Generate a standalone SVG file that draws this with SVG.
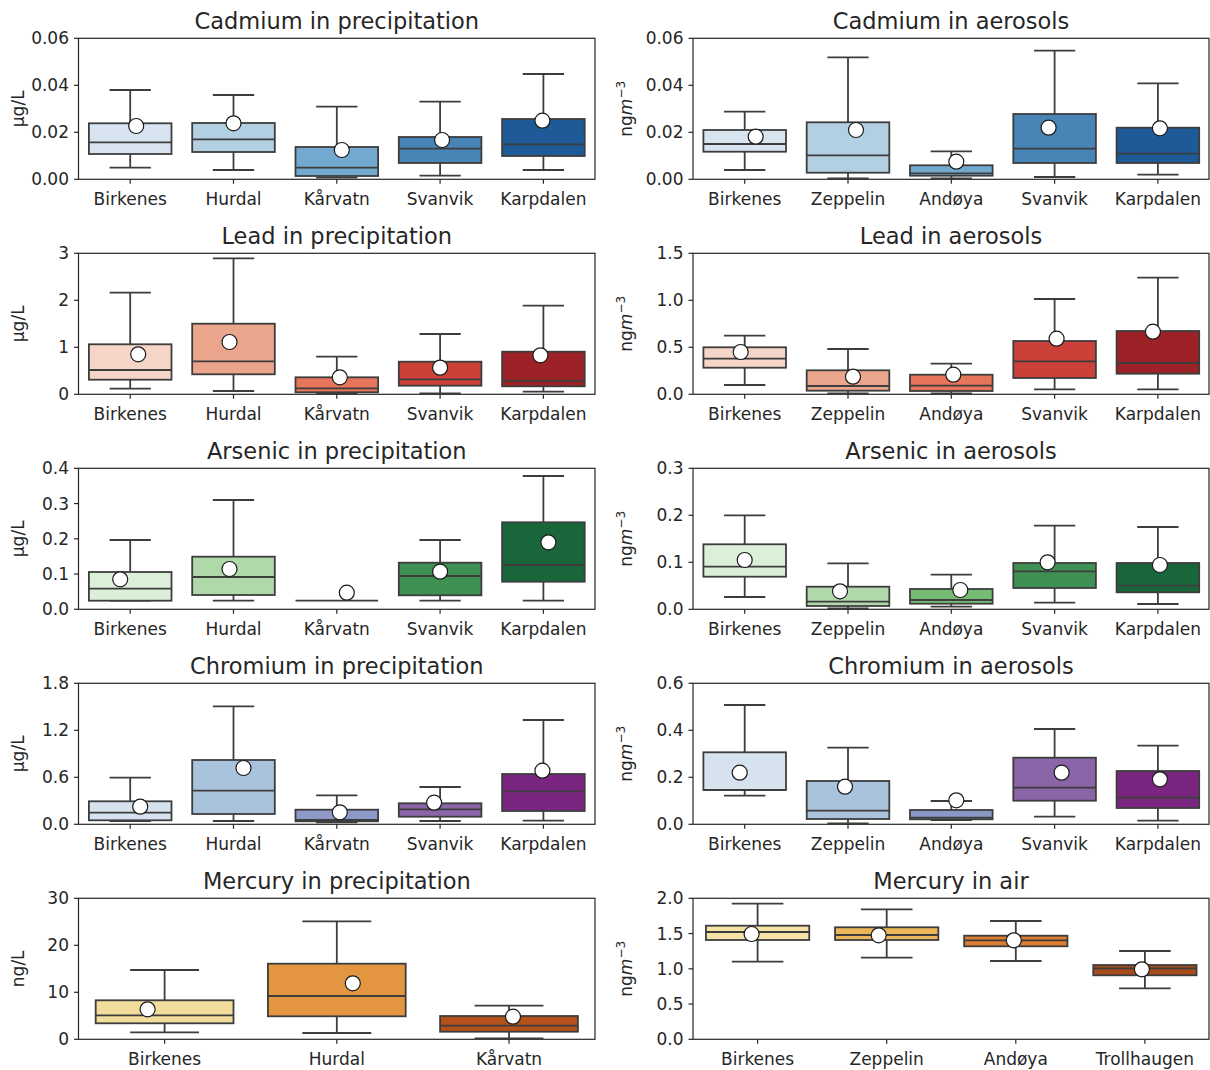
<svg xmlns="http://www.w3.org/2000/svg" width="1210" height="1070" viewBox="0 0 1210 1070">
<style>
text{font-family:"DejaVu Sans","Liberation Sans",sans-serif;fill:#262626}
.tl{font-size:17px}
.ty{font-size:17px;text-anchor:end}
.tx{font-size:17px;text-anchor:middle}
.tt{font-size:22.5px;text-anchor:middle}
.yl{font-size:17px;text-anchor:middle}
.fr{fill:none;stroke:#262626;stroke-width:1.2}
.tk{stroke:#262626;stroke-width:1.2}
.w{stroke:#3d3d3d;stroke-width:1.8;fill:none}
.b{stroke:#3d3d3d;stroke-width:1.8}
.m{fill:#fff;stroke:#1a1a1a;stroke-width:1.2}
</style>
<rect width="1210" height="1070" fill="#fff"/>

<!-- ===== Row 1 left: Cadmium in precipitation ===== -->
<g id="cd-precip">
<text class="tt" x="336.8" y="29">Cadmium in precipitation</text>
<rect class="fr" x="78.5" y="38.3" width="516.5" height="141"/>
<g class="tk"><line x1="74" y1="179.3" x2="78.5" y2="179.3"/><line x1="74" y1="132.3" x2="78.5" y2="132.3"/><line x1="74" y1="85.3" x2="78.5" y2="85.3"/><line x1="74" y1="38.3" x2="78.5" y2="38.3"/>
<line x1="130.2" y1="179.3" x2="130.2" y2="183.8"/><line x1="233.5" y1="179.3" x2="233.5" y2="183.8"/><line x1="336.8" y1="179.3" x2="336.8" y2="183.8"/><line x1="440.1" y1="179.3" x2="440.1" y2="183.8"/><line x1="543.4" y1="179.3" x2="543.4" y2="183.8"/></g>
<text class="ty" x="69" y="185.3">0.00</text><text class="ty" x="69" y="138.3">0.02</text><text class="ty" x="69" y="91.3">0.04</text><text class="ty" x="69" y="44.3">0.06</text>
<text class="tx" x="130.2" y="205">Birkenes</text><text class="tx" x="233.5" y="205">Hurdal</text><text class="tx" x="336.8" y="205">Kårvatn</text><text class="tx" x="440.1" y="205">Svanvik</text><text class="tx" x="543.4" y="205">Karpdalen</text>
<text class="yl" transform="translate(23.5,108.8) rotate(-90)">μg/L</text>
<g id="cdp-1"><line class="w" x1="130.2" y1="90" x2="130.2" y2="167.7"/><line class="w" x1="109.55" y1="90" x2="150.85" y2="90"/><line class="w" x1="109.55" y1="167.7" x2="150.85" y2="167.7"/><rect class="b" x="88.9" y="123.3" width="82.6" height="30.7" fill="#d8e5f1"/><line class="w" x1="88.9" y1="142.3" x2="171.5" y2="142.3"/><circle class="m" cx="136.2" cy="126" r="7.5"/></g>
<g id="cdp-2"><line class="w" x1="233.5" y1="95" x2="233.5" y2="170"/><line class="w" x1="212.85" y1="95" x2="254.15" y2="95"/><line class="w" x1="212.85" y1="170" x2="254.15" y2="170"/><rect class="b" x="192.2" y="123" width="82.6" height="29" fill="#b3cfe2"/><line class="w" x1="192.2" y1="139.3" x2="274.8" y2="139.3"/><circle class="m" cx="233.5" cy="123.3" r="7.5"/></g>
<g id="cdp-3"><line class="w" x1="336.8" y1="106.7" x2="336.8" y2="177.7"/><line class="w" x1="316.15" y1="106.7" x2="357.45" y2="106.7"/><line class="w" x1="316.15" y1="177.7" x2="357.45" y2="177.7"/><rect class="b" x="295.5" y="147" width="82.6" height="29" fill="#74a9cf"/><line class="w" x1="295.5" y1="167.7" x2="378.1" y2="167.7"/><circle class="m" cx="341.8" cy="150" r="7.5"/></g>
<g id="cdp-4"><line class="w" x1="440.1" y1="101.7" x2="440.1" y2="175.7"/><line class="w" x1="419.45" y1="101.7" x2="460.75" y2="101.7"/><line class="w" x1="419.45" y1="175.7" x2="460.75" y2="175.7"/><rect class="b" x="398.8" y="137" width="82.6" height="26" fill="#4884b6"/><line class="w" x1="398.8" y1="148.7" x2="481.4" y2="148.7"/><circle class="m" cx="442.1" cy="140" r="7.5"/></g>
<g id="cdp-5"><line class="w" x1="543.4" y1="74" x2="543.4" y2="170"/><line class="w" x1="522.75" y1="74" x2="564.05" y2="74"/><line class="w" x1="522.75" y1="170" x2="564.05" y2="170"/><rect class="b" x="502.1" y="119" width="82.6" height="37" fill="#1f5a98"/><line class="w" x1="502.1" y1="144.3" x2="584.7" y2="144.3"/><circle class="m" cx="542.4" cy="120.7" r="7.5"/></g>
</g>

<!-- ===== Row 1 right: Cadmium in aerosols ===== -->
<g id="cd-aer">
<text class="tt" x="951" y="29">Cadmium in aerosols</text>
<rect class="fr" x="693" y="38.3" width="516" height="141"/>
<g class="tk"><line x1="688.5" y1="179.3" x2="693" y2="179.3"/><line x1="688.5" y1="132.3" x2="693" y2="132.3"/><line x1="688.5" y1="85.3" x2="693" y2="85.3"/><line x1="688.5" y1="38.3" x2="693" y2="38.3"/>
<line x1="744.7" y1="179.3" x2="744.7" y2="183.8"/><line x1="848" y1="179.3" x2="848" y2="183.8"/><line x1="951.3" y1="179.3" x2="951.3" y2="183.8"/><line x1="1054.6" y1="179.3" x2="1054.6" y2="183.8"/><line x1="1157.9" y1="179.3" x2="1157.9" y2="183.8"/></g>
<text class="ty" x="683.5" y="185.3">0.00</text><text class="ty" x="683.5" y="138.3">0.02</text><text class="ty" x="683.5" y="91.3">0.04</text><text class="ty" x="683.5" y="44.3">0.06</text>
<text class="tx" x="744.7" y="205">Birkenes</text><text class="tx" x="848" y="205">Zeppelin</text><text class="tx" x="951.3" y="205">Andøya</text><text class="tx" x="1054.6" y="205">Svanvik</text><text class="tx" x="1157.9" y="205">Karpdalen</text>
<text class="yl" transform="translate(632,108.8) rotate(-90)">ng<tspan font-style="italic">m</tspan><tspan font-size="12" dy="-7">−3</tspan></text>
<g id="cda-1"><line class="w" x1="744.7" y1="111.7" x2="744.7" y2="170"/><line class="w" x1="724.05" y1="111.7" x2="765.35" y2="111.7"/><line class="w" x1="724.05" y1="170" x2="765.35" y2="170"/><rect class="b" x="703.4" y="130" width="82.6" height="21.7" fill="#d8e5f1"/><line class="w" x1="703.4" y1="144" x2="786" y2="144"/><circle class="m" cx="755.7" cy="136.7" r="7.5"/></g>
<g id="cda-2"><line class="w" x1="848" y1="57.3" x2="848" y2="178.3"/><line class="w" x1="827.35" y1="57.3" x2="868.65" y2="57.3"/><line class="w" x1="827.35" y1="178.3" x2="868.65" y2="178.3"/><rect class="b" x="806.7" y="122.3" width="82.6" height="50.4" fill="#b3cfe2"/><line class="w" x1="806.7" y1="155.3" x2="889.3" y2="155.3"/><circle class="m" cx="856" cy="130" r="7.5"/></g>
<g id="cda-3"><line class="w" x1="951.3" y1="151.3" x2="951.3" y2="178.3"/><line class="w" x1="930.65" y1="151.3" x2="971.95" y2="151.3"/><line class="w" x1="930.65" y1="178.3" x2="971.95" y2="178.3"/><rect class="b" x="910" y="165.3" width="82.6" height="10.4" fill="#74a9cf"/><line class="w" x1="910" y1="173.3" x2="992.6" y2="173.3"/><circle class="m" cx="956.3" cy="161.7" r="7.5"/></g>
<g id="cda-4"><line class="w" x1="1054.6" y1="50.7" x2="1054.6" y2="177"/><line class="w" x1="1033.95" y1="50.7" x2="1075.25" y2="50.7"/><line class="w" x1="1033.95" y1="177" x2="1075.25" y2="177"/><rect class="b" x="1013.3" y="114" width="82.6" height="49" fill="#4884b6"/><line class="w" x1="1013.3" y1="148.7" x2="1095.9" y2="148.7"/><circle class="m" cx="1048.6" cy="127.7" r="7.5"/></g>
<g id="cda-5"><line class="w" x1="1157.9" y1="83.3" x2="1157.9" y2="174.7"/><line class="w" x1="1137.25" y1="83.3" x2="1178.55" y2="83.3"/><line class="w" x1="1137.25" y1="174.7" x2="1178.55" y2="174.7"/><rect class="b" x="1116.6" y="127.7" width="82.6" height="35.3" fill="#1f5a98"/><line class="w" x1="1116.6" y1="153.7" x2="1199.2" y2="153.7"/><circle class="m" cx="1159.9" cy="128.3" r="7.5"/></g>
</g>

<!-- ===== Row 2 left: Lead in precipitation ===== -->
<g id="pb-precip">
<text class="tt" x="336.8" y="244">Lead in precipitation</text>
<rect class="fr" x="78.5" y="253.3" width="516.5" height="141"/>
<g class="tk"><line x1="74" y1="394.3" x2="78.5" y2="394.3"/><line x1="74" y1="347.3" x2="78.5" y2="347.3"/><line x1="74" y1="300.3" x2="78.5" y2="300.3"/><line x1="74" y1="253.3" x2="78.5" y2="253.3"/>
<line x1="130.2" y1="394.3" x2="130.2" y2="398.8"/><line x1="233.5" y1="394.3" x2="233.5" y2="398.8"/><line x1="336.8" y1="394.3" x2="336.8" y2="398.8"/><line x1="440.1" y1="394.3" x2="440.1" y2="398.8"/><line x1="543.4" y1="394.3" x2="543.4" y2="398.8"/></g>
<text class="ty" x="69" y="400.3">0</text><text class="ty" x="69" y="353.3">1</text><text class="ty" x="69" y="306.3">2</text><text class="ty" x="69" y="259.3">3</text>
<text class="tx" x="130.2" y="420">Birkenes</text><text class="tx" x="233.5" y="420">Hurdal</text><text class="tx" x="336.8" y="420">Kårvatn</text><text class="tx" x="440.1" y="420">Svanvik</text><text class="tx" x="543.4" y="420">Karpdalen</text>
<text class="yl" transform="translate(23.5,323.8) rotate(-90)">μg/L</text>
<g id="pbp-1"><line class="w" x1="130.2" y1="292.7" x2="130.2" y2="388.7"/><line class="w" x1="109.55" y1="292.7" x2="150.85" y2="292.7"/><line class="w" x1="109.55" y1="388.7" x2="150.85" y2="388.7"/><rect class="b" x="88.9" y="344.3" width="82.6" height="35.4" fill="#f5d5c8"/><line class="w" x1="88.9" y1="370" x2="171.5" y2="370"/><circle class="m" cx="138.2" cy="354.3" r="7.5"/></g>
<g id="pbp-2"><line class="w" x1="233.5" y1="258.3" x2="233.5" y2="391"/><line class="w" x1="212.85" y1="258.3" x2="254.15" y2="258.3"/><line class="w" x1="212.85" y1="391" x2="254.15" y2="391"/><rect class="b" x="192.2" y="323.7" width="82.6" height="50.6" fill="#eaa58c"/><line class="w" x1="192.2" y1="361.3" x2="274.8" y2="361.3"/><circle class="m" cx="229.5" cy="342" r="7.5"/></g>
<g id="pbp-3"><line class="w" x1="336.8" y1="356.7" x2="336.8" y2="393.7"/><line class="w" x1="316.15" y1="356.7" x2="357.45" y2="356.7"/><line class="w" x1="316.15" y1="393.7" x2="357.45" y2="393.7"/><rect class="b" x="295.5" y="377.3" width="82.6" height="15" fill="#e6755b"/><line class="w" x1="295.5" y1="388.3" x2="378.1" y2="388.3"/><circle class="m" cx="339.8" cy="377.3" r="7.5"/></g>
<g id="pbp-4"><line class="w" x1="440.1" y1="334" x2="440.1" y2="393.3"/><line class="w" x1="419.45" y1="334" x2="460.75" y2="334"/><line class="w" x1="419.45" y1="393.3" x2="460.75" y2="393.3"/><rect class="b" x="398.8" y="361.7" width="82.6" height="24" fill="#cb4139"/><line class="w" x1="398.8" y1="379.3" x2="481.4" y2="379.3"/><circle class="m" cx="440.1" cy="367.7" r="7.5"/></g>
<g id="pbp-5"><line class="w" x1="543.4" y1="305.7" x2="543.4" y2="391.7"/><line class="w" x1="522.75" y1="305.7" x2="564.05" y2="305.7"/><line class="w" x1="522.75" y1="391.7" x2="564.05" y2="391.7"/><rect class="b" x="502.1" y="351.7" width="82.6" height="34.6" fill="#9c2227"/><line class="w" x1="502.1" y1="380.7" x2="584.7" y2="380.7"/><circle class="m" cx="540.4" cy="355.3" r="7.5"/></g>
</g>

<!-- ===== Row 2 right: Lead in aerosols ===== -->
<g id="pb-aer">
<text class="tt" x="951" y="244">Lead in aerosols</text>
<rect class="fr" x="693" y="253.3" width="516" height="141"/>
<g class="tk"><line x1="688.5" y1="394.3" x2="693" y2="394.3"/><line x1="688.5" y1="347.3" x2="693" y2="347.3"/><line x1="688.5" y1="300.3" x2="693" y2="300.3"/><line x1="688.5" y1="253.3" x2="693" y2="253.3"/>
<line x1="744.7" y1="394.3" x2="744.7" y2="398.8"/><line x1="848" y1="394.3" x2="848" y2="398.8"/><line x1="951.3" y1="394.3" x2="951.3" y2="398.8"/><line x1="1054.6" y1="394.3" x2="1054.6" y2="398.8"/><line x1="1157.9" y1="394.3" x2="1157.9" y2="398.8"/></g>
<text class="ty" x="683.5" y="400.3">0.0</text><text class="ty" x="683.5" y="353.3">0.5</text><text class="ty" x="683.5" y="306.3">1.0</text><text class="ty" x="683.5" y="259.3">1.5</text>
<text class="tx" x="744.7" y="420">Birkenes</text><text class="tx" x="848" y="420">Zeppelin</text><text class="tx" x="951.3" y="420">Andøya</text><text class="tx" x="1054.6" y="420">Svanvik</text><text class="tx" x="1157.9" y="420">Karpdalen</text>
<text class="yl" transform="translate(632,323.8) rotate(-90)">ng<tspan font-style="italic">m</tspan><tspan font-size="12" dy="-7">−3</tspan></text>
<g id="pba-1"><line class="w" x1="744.7" y1="335.7" x2="744.7" y2="385"/><line class="w" x1="724.05" y1="335.7" x2="765.35" y2="335.7"/><line class="w" x1="724.05" y1="385" x2="765.35" y2="385"/><rect class="b" x="703.4" y="347.3" width="82.6" height="20.4" fill="#f5d5c8"/><line class="w" x1="703.4" y1="358.7" x2="786" y2="358.7"/><circle class="m" cx="740.7" cy="352" r="7.5"/></g>
<g id="pba-2"><line class="w" x1="848" y1="349" x2="848" y2="393.3"/><line class="w" x1="827.35" y1="349" x2="868.65" y2="349"/><line class="w" x1="827.35" y1="393.3" x2="868.65" y2="393.3"/><rect class="b" x="806.7" y="370.3" width="82.6" height="20.4" fill="#eaa58c"/><line class="w" x1="806.7" y1="386" x2="889.3" y2="386"/><circle class="m" cx="853" cy="376.7" r="7.5"/></g>
<g id="pba-3"><line class="w" x1="951.3" y1="363.7" x2="951.3" y2="393.3"/><line class="w" x1="930.65" y1="363.7" x2="971.95" y2="363.7"/><line class="w" x1="930.65" y1="393.3" x2="971.95" y2="393.3"/><rect class="b" x="910" y="374.7" width="82.6" height="16.3" fill="#e6755b"/><line class="w" x1="910" y1="385.7" x2="992.6" y2="385.7"/><circle class="m" cx="953.3" cy="374.7" r="7.5"/></g>
<g id="pba-4"><line class="w" x1="1054.6" y1="299" x2="1054.6" y2="389.3"/><line class="w" x1="1033.95" y1="299" x2="1075.25" y2="299"/><line class="w" x1="1033.95" y1="389.3" x2="1075.25" y2="389.3"/><rect class="b" x="1013.3" y="341" width="82.6" height="37" fill="#cb4139"/><line class="w" x1="1013.3" y1="361.3" x2="1095.9" y2="361.3"/><circle class="m" cx="1056.6" cy="338.7" r="7.5"/></g>
<g id="pba-5"><line class="w" x1="1157.9" y1="277.7" x2="1157.9" y2="389.3"/><line class="w" x1="1137.25" y1="277.7" x2="1178.55" y2="277.7"/><line class="w" x1="1137.25" y1="389.3" x2="1178.55" y2="389.3"/><rect class="b" x="1116.6" y="331" width="82.6" height="42.7" fill="#9c2227"/><line class="w" x1="1116.6" y1="363" x2="1199.2" y2="363"/><circle class="m" cx="1152.9" cy="331.7" r="7.5"/></g>
</g>

<!-- ===== Row 3 left: Arsenic in precipitation ===== -->
<g id="as-precip">
<text class="tt" x="336.8" y="459">Arsenic in precipitation</text>
<rect class="fr" x="78.5" y="468.3" width="516.5" height="141"/>
<g class="tk"><line x1="74" y1="609.3" x2="78.5" y2="609.3"/><line x1="74" y1="574.05" x2="78.5" y2="574.05"/><line x1="74" y1="538.8" x2="78.5" y2="538.8"/><line x1="74" y1="503.55" x2="78.5" y2="503.55"/><line x1="74" y1="468.3" x2="78.5" y2="468.3"/>
<line x1="130.2" y1="609.3" x2="130.2" y2="613.8"/><line x1="233.5" y1="609.3" x2="233.5" y2="613.8"/><line x1="336.8" y1="609.3" x2="336.8" y2="613.8"/><line x1="440.1" y1="609.3" x2="440.1" y2="613.8"/><line x1="543.4" y1="609.3" x2="543.4" y2="613.8"/></g>
<text class="ty" x="69" y="615.3">0.0</text><text class="ty" x="69" y="580.05">0.1</text><text class="ty" x="69" y="544.8">0.2</text><text class="ty" x="69" y="509.55">0.3</text><text class="ty" x="69" y="474.3">0.4</text>
<text class="tx" x="130.2" y="635">Birkenes</text><text class="tx" x="233.5" y="635">Hurdal</text><text class="tx" x="336.8" y="635">Kårvatn</text><text class="tx" x="440.1" y="635">Svanvik</text><text class="tx" x="543.4" y="635">Karpdalen</text>
<text class="yl" transform="translate(23.5,538.8) rotate(-90)">μg/L</text>
<g id="asp-1"><line class="w" x1="130.2" y1="540" x2="130.2" y2="600.7"/><line class="w" x1="109.55" y1="540" x2="150.85" y2="540"/><line class="w" x1="109.55" y1="600.7" x2="150.85" y2="600.7"/><rect class="b" x="88.9" y="572" width="82.6" height="28.7" fill="#dcefd9"/><line class="w" x1="88.9" y1="588.7" x2="171.5" y2="588.7"/><circle class="m" cx="120.2" cy="579.3" r="7.5"/></g>
<g id="asp-2"><line class="w" x1="233.5" y1="500" x2="233.5" y2="600.7"/><line class="w" x1="212.85" y1="500" x2="254.15" y2="500"/><line class="w" x1="212.85" y1="600.7" x2="254.15" y2="600.7"/><rect class="b" x="192.2" y="556.7" width="82.6" height="38.3" fill="#afd9a8"/><line class="w" x1="192.2" y1="577" x2="274.8" y2="577"/><circle class="m" cx="229.5" cy="569" r="7.5"/></g>
<g id="asp-3"><line class="w" x1="295.5" y1="600.7" x2="378.1" y2="600.7"/><circle class="m" cx="346.8" cy="592.7" r="7.5"/></g>
<g id="asp-4"><line class="w" x1="440.1" y1="540" x2="440.1" y2="600.7"/><line class="w" x1="419.45" y1="540" x2="460.75" y2="540"/><line class="w" x1="419.45" y1="600.7" x2="460.75" y2="600.7"/><rect class="b" x="398.8" y="562.7" width="82.6" height="32.6" fill="#3f9053"/><line class="w" x1="398.8" y1="576" x2="481.4" y2="576"/><circle class="m" cx="440.1" cy="571.7" r="7.5"/></g>
<g id="asp-5"><line class="w" x1="543.4" y1="476" x2="543.4" y2="600.7"/><line class="w" x1="522.75" y1="476" x2="564.05" y2="476"/><line class="w" x1="522.75" y1="600.7" x2="564.05" y2="600.7"/><rect class="b" x="502.1" y="522.3" width="82.6" height="59.4" fill="#18663a"/><line class="w" x1="502.1" y1="565" x2="584.7" y2="565"/><circle class="m" cx="548.4" cy="542.3" r="7.5"/></g>
</g>

<!-- ===== Row 3 right: Arsenic in aerosols ===== -->
<g id="as-aer">
<text class="tt" x="951" y="459">Arsenic in aerosols</text>
<rect class="fr" x="693" y="468.3" width="516" height="141"/>
<g class="tk"><line x1="688.5" y1="609.3" x2="693" y2="609.3"/><line x1="688.5" y1="562.3" x2="693" y2="562.3"/><line x1="688.5" y1="515.3" x2="693" y2="515.3"/><line x1="688.5" y1="468.3" x2="693" y2="468.3"/>
<line x1="744.7" y1="609.3" x2="744.7" y2="613.8"/><line x1="848" y1="609.3" x2="848" y2="613.8"/><line x1="951.3" y1="609.3" x2="951.3" y2="613.8"/><line x1="1054.6" y1="609.3" x2="1054.6" y2="613.8"/><line x1="1157.9" y1="609.3" x2="1157.9" y2="613.8"/></g>
<text class="ty" x="683.5" y="615.3">0.0</text><text class="ty" x="683.5" y="568.3">0.1</text><text class="ty" x="683.5" y="521.3">0.2</text><text class="ty" x="683.5" y="474.3">0.3</text>
<text class="tx" x="744.7" y="635">Birkenes</text><text class="tx" x="848" y="635">Zeppelin</text><text class="tx" x="951.3" y="635">Andøya</text><text class="tx" x="1054.6" y="635">Svanvik</text><text class="tx" x="1157.9" y="635">Karpdalen</text>
<text class="yl" transform="translate(632,538.8) rotate(-90)">ng<tspan font-style="italic">m</tspan><tspan font-size="12" dy="-7">−3</tspan></text>
<g id="asa-1"><line class="w" x1="744.7" y1="515.3" x2="744.7" y2="597"/><line class="w" x1="724.05" y1="515.3" x2="765.35" y2="515.3"/><line class="w" x1="724.05" y1="597" x2="765.35" y2="597"/><rect class="b" x="703.4" y="544.3" width="82.6" height="32.4" fill="#dcefd9"/><line class="w" x1="703.4" y1="566.7" x2="786" y2="566.7"/><circle class="m" cx="744.7" cy="560" r="7.5"/></g>
<g id="asa-2"><line class="w" x1="848" y1="563.3" x2="848" y2="608.3"/><line class="w" x1="827.35" y1="563.3" x2="868.65" y2="563.3"/><line class="w" x1="827.35" y1="608.3" x2="868.65" y2="608.3"/><rect class="b" x="806.7" y="586.7" width="82.6" height="19.3" fill="#afd9a8"/><line class="w" x1="806.7" y1="601.7" x2="889.3" y2="601.7"/><circle class="m" cx="840" cy="591.3" r="7.5"/></g>
<g id="asa-3"><line class="w" x1="951.3" y1="574.7" x2="951.3" y2="606.7"/><line class="w" x1="930.65" y1="574.7" x2="971.95" y2="574.7"/><line class="w" x1="930.65" y1="606.7" x2="971.95" y2="606.7"/><rect class="b" x="910" y="589" width="82.6" height="14.7" fill="#77bc75"/><line class="w" x1="910" y1="600" x2="992.6" y2="600"/><circle class="m" cx="960.3" cy="590" r="7.5"/></g>
<g id="asa-4"><line class="w" x1="1054.6" y1="525.7" x2="1054.6" y2="602.7"/><line class="w" x1="1033.95" y1="525.7" x2="1075.25" y2="525.7"/><line class="w" x1="1033.95" y1="602.7" x2="1075.25" y2="602.7"/><rect class="b" x="1013.3" y="563" width="82.6" height="25" fill="#3f9053"/><line class="w" x1="1013.3" y1="571.3" x2="1095.9" y2="571.3"/><circle class="m" cx="1047.6" cy="562.3" r="7.5"/></g>
<g id="asa-5"><line class="w" x1="1157.9" y1="527" x2="1157.9" y2="604"/><line class="w" x1="1137.25" y1="527" x2="1178.55" y2="527"/><line class="w" x1="1137.25" y1="604" x2="1178.55" y2="604"/><rect class="b" x="1116.6" y="563" width="82.6" height="29.3" fill="#18663a"/><line class="w" x1="1116.6" y1="585.7" x2="1199.2" y2="585.7"/><circle class="m" cx="1159.9" cy="565" r="7.5"/></g>
</g>

<!-- ===== Row 4 left: Chromium in precipitation ===== -->
<g id="cr-precip">
<text class="tt" x="336.8" y="674">Chromium in precipitation</text>
<rect class="fr" x="78.5" y="683.3" width="516.5" height="141"/>
<g class="tk"><line x1="74" y1="824.3" x2="78.5" y2="824.3"/><line x1="74" y1="777.3" x2="78.5" y2="777.3"/><line x1="74" y1="730.3" x2="78.5" y2="730.3"/><line x1="74" y1="683.3" x2="78.5" y2="683.3"/>
<line x1="130.2" y1="824.3" x2="130.2" y2="828.8"/><line x1="233.5" y1="824.3" x2="233.5" y2="828.8"/><line x1="336.8" y1="824.3" x2="336.8" y2="828.8"/><line x1="440.1" y1="824.3" x2="440.1" y2="828.8"/><line x1="543.4" y1="824.3" x2="543.4" y2="828.8"/></g>
<text class="ty" x="69" y="830.3">0.0</text><text class="ty" x="69" y="783.3">0.6</text><text class="ty" x="69" y="736.3">1.2</text><text class="ty" x="69" y="689.3">1.8</text>
<text class="tx" x="130.2" y="850">Birkenes</text><text class="tx" x="233.5" y="850">Hurdal</text><text class="tx" x="336.8" y="850">Kårvatn</text><text class="tx" x="440.1" y="850">Svanvik</text><text class="tx" x="543.4" y="850">Karpdalen</text>
<text class="yl" transform="translate(23.5,753.8) rotate(-90)">μg/L</text>
<g id="crp-1"><line class="w" x1="130.2" y1="777.7" x2="130.2" y2="821"/><line class="w" x1="109.55" y1="777.7" x2="150.85" y2="777.7"/><line class="w" x1="109.55" y1="821" x2="150.85" y2="821"/><rect class="b" x="88.9" y="801.3" width="82.6" height="19" fill="#d6e2ed"/><line class="w" x1="88.9" y1="812.7" x2="171.5" y2="812.7"/><circle class="m" cx="140.2" cy="806.7" r="7.5"/></g>
<g id="crp-2"><line class="w" x1="233.5" y1="706.3" x2="233.5" y2="821"/><line class="w" x1="212.85" y1="706.3" x2="254.15" y2="706.3"/><line class="w" x1="212.85" y1="821" x2="254.15" y2="821"/><rect class="b" x="192.2" y="760" width="82.6" height="54" fill="#aac3dc"/><line class="w" x1="192.2" y1="790.7" x2="274.8" y2="790.7"/><circle class="m" cx="243.5" cy="768" r="7.5"/></g>
<g id="crp-3"><line class="w" x1="336.8" y1="795.3" x2="336.8" y2="822.3"/><line class="w" x1="316.15" y1="795.3" x2="357.45" y2="795.3"/><line class="w" x1="316.15" y1="822.3" x2="357.45" y2="822.3"/><rect class="b" x="295.5" y="809.7" width="82.6" height="11.6" fill="#8e98c7"/><line class="w" x1="295.5" y1="820" x2="378.1" y2="820"/><circle class="m" cx="339.8" cy="812.3" r="7.5"/></g>
<g id="crp-4"><line class="w" x1="440.1" y1="787" x2="440.1" y2="821"/><line class="w" x1="419.45" y1="787" x2="460.75" y2="787"/><line class="w" x1="419.45" y1="821" x2="460.75" y2="821"/><rect class="b" x="398.8" y="803.3" width="82.6" height="13.4" fill="#8a65a7"/><line class="w" x1="398.8" y1="809.3" x2="481.4" y2="809.3"/><circle class="m" cx="434.1" cy="802.7" r="7.5"/></g>
<g id="crp-5"><line class="w" x1="543.4" y1="720" x2="543.4" y2="820.7"/><line class="w" x1="522.75" y1="720" x2="564.05" y2="720"/><line class="w" x1="522.75" y1="820.7" x2="564.05" y2="820.7"/><rect class="b" x="502.1" y="774" width="82.6" height="37" fill="#7a2680"/><line class="w" x1="502.1" y1="791.3" x2="584.7" y2="791.3"/><circle class="m" cx="542.4" cy="770.7" r="7.5"/></g>
</g>

<!-- ===== Row 4 right: Chromium in aerosols ===== -->
<g id="cr-aer">
<text class="tt" x="951" y="674">Chromium in aerosols</text>
<rect class="fr" x="693" y="683.3" width="516" height="141"/>
<g class="tk"><line x1="688.5" y1="824.3" x2="693" y2="824.3"/><line x1="688.5" y1="777.3" x2="693" y2="777.3"/><line x1="688.5" y1="730.3" x2="693" y2="730.3"/><line x1="688.5" y1="683.3" x2="693" y2="683.3"/>
<line x1="744.7" y1="824.3" x2="744.7" y2="828.8"/><line x1="848" y1="824.3" x2="848" y2="828.8"/><line x1="951.3" y1="824.3" x2="951.3" y2="828.8"/><line x1="1054.6" y1="824.3" x2="1054.6" y2="828.8"/><line x1="1157.9" y1="824.3" x2="1157.9" y2="828.8"/></g>
<text class="ty" x="683.5" y="830.3">0.0</text><text class="ty" x="683.5" y="783.3">0.2</text><text class="ty" x="683.5" y="736.3">0.4</text><text class="ty" x="683.5" y="689.3">0.6</text>
<text class="tx" x="744.7" y="850">Birkenes</text><text class="tx" x="848" y="850">Zeppelin</text><text class="tx" x="951.3" y="850">Andøya</text><text class="tx" x="1054.6" y="850">Svanvik</text><text class="tx" x="1157.9" y="850">Karpdalen</text>
<text class="yl" transform="translate(632,753.8) rotate(-90)">ng<tspan font-style="italic">m</tspan><tspan font-size="12" dy="-7">−3</tspan></text>
<g id="cra-1"><line class="w" x1="744.7" y1="705" x2="744.7" y2="795.7"/><line class="w" x1="724.05" y1="705" x2="765.35" y2="705"/><line class="w" x1="724.05" y1="795.7" x2="765.35" y2="795.7"/><rect class="b" x="703.4" y="752.3" width="82.6" height="37.7" fill="#d6e2ed"/><line class="w" x1="703.4" y1="790" x2="786" y2="790"/><circle class="m" cx="739.7" cy="772.7" r="7.5"/></g>
<g id="cra-2"><line class="w" x1="848" y1="747.7" x2="848" y2="823.3"/><line class="w" x1="827.35" y1="747.7" x2="868.65" y2="747.7"/><line class="w" x1="827.35" y1="823.3" x2="868.65" y2="823.3"/><rect class="b" x="806.7" y="781" width="82.6" height="38" fill="#aac3dc"/><line class="w" x1="806.7" y1="810.7" x2="889.3" y2="810.7"/><circle class="m" cx="845" cy="786.7" r="7.5"/></g>
<g id="cra-3"><line class="w" x1="951.3" y1="801" x2="951.3" y2="820"/><line class="w" x1="930.65" y1="801" x2="971.95" y2="801"/><line class="w" x1="930.65" y1="820" x2="971.95" y2="820"/><rect class="b" x="910" y="810" width="82.6" height="9.3" fill="#8e98c7"/><line class="w" x1="910" y1="817.7" x2="992.6" y2="817.7"/><circle class="m" cx="956.3" cy="800.3" r="7.5"/></g>
<g id="cra-4"><line class="w" x1="1054.6" y1="729" x2="1054.6" y2="816.7"/><line class="w" x1="1033.95" y1="729" x2="1075.25" y2="729"/><line class="w" x1="1033.95" y1="816.7" x2="1075.25" y2="816.7"/><rect class="b" x="1013.3" y="757.7" width="82.6" height="43" fill="#8a65a7"/><line class="w" x1="1013.3" y1="787.7" x2="1095.9" y2="787.7"/><circle class="m" cx="1061.6" cy="772.7" r="7.5"/></g>
<g id="cra-5"><line class="w" x1="1157.9" y1="745.7" x2="1157.9" y2="820.7"/><line class="w" x1="1137.25" y1="745.7" x2="1178.55" y2="745.7"/><line class="w" x1="1137.25" y1="820.7" x2="1178.55" y2="820.7"/><rect class="b" x="1116.6" y="771" width="82.6" height="37" fill="#7a2680"/><line class="w" x1="1116.6" y1="797.7" x2="1199.2" y2="797.7"/><circle class="m" cx="1159.9" cy="779.3" r="7.5"/></g>
</g>

<!-- ===== Row 5 left: Mercury in precipitation ===== -->
<g id="hg-precip">
<text class="tt" x="336.8" y="889">Mercury in precipitation</text>
<rect class="fr" x="78.5" y="898.3" width="516.5" height="141"/>
<g class="tk"><line x1="74" y1="1039.3" x2="78.5" y2="1039.3"/><line x1="74" y1="992.3" x2="78.5" y2="992.3"/><line x1="74" y1="945.3" x2="78.5" y2="945.3"/><line x1="74" y1="898.3" x2="78.5" y2="898.3"/>
<line x1="164.6" y1="1039.3" x2="164.6" y2="1043.8"/><line x1="336.8" y1="1039.3" x2="336.8" y2="1043.8"/><line x1="509" y1="1039.3" x2="509" y2="1043.8"/></g>
<text class="ty" x="69" y="1045.3">0</text><text class="ty" x="69" y="998.3">10</text><text class="ty" x="69" y="951.3">20</text><text class="ty" x="69" y="904.3">30</text>
<text class="tx" x="164.6" y="1065">Birkenes</text><text class="tx" x="336.8" y="1065">Hurdal</text><text class="tx" x="509" y="1065">Kårvatn</text>
<text class="yl" transform="translate(23.5,968.8) rotate(-90)">ng/L</text>
<g id="hgp-1"><line class="w" x1="164.6" y1="970" x2="164.6" y2="1032.3"/><line class="w" x1="130.15" y1="970" x2="199.05" y2="970"/><line class="w" x1="130.15" y1="1032.3" x2="199.05" y2="1032.3"/><rect class="b" x="95.7" y="1000.3" width="137.8" height="23" fill="#f1dc9c"/><line class="w" x1="95.7" y1="1015.3" x2="233.5" y2="1015.3"/><circle class="m" cx="147.6" cy="1009.3" r="7.5"/></g>
<g id="hgp-2"><line class="w" x1="336.8" y1="921.3" x2="336.8" y2="1033"/><line class="w" x1="302.35" y1="921.3" x2="371.25" y2="921.3"/><line class="w" x1="302.35" y1="1033" x2="371.25" y2="1033"/><rect class="b" x="267.9" y="963.7" width="137.8" height="52.6" fill="#e3963f"/><line class="w" x1="267.9" y1="996" x2="405.7" y2="996"/><circle class="m" cx="352.8" cy="983.3" r="7.5"/></g>
<g id="hgp-3"><line class="w" x1="509" y1="1005.7" x2="509" y2="1038.3"/><line class="w" x1="474.55" y1="1005.7" x2="543.45" y2="1005.7"/><line class="w" x1="474.55" y1="1038.3" x2="543.45" y2="1038.3"/><rect class="b" x="440.1" y="1016" width="137.8" height="15.7" fill="#b4501a"/><line class="w" x1="440.1" y1="1025.7" x2="577.9" y2="1025.7"/><circle class="m" cx="513" cy="1016.7" r="7.5"/></g>
</g>

<!-- ===== Row 5 right: Mercury in air ===== -->
<g id="hg-air">
<text class="tt" x="951" y="889">Mercury in air</text>
<rect class="fr" x="693" y="898.3" width="516" height="141"/>
<g class="tk"><line x1="688.5" y1="1039.3" x2="693" y2="1039.3"/><line x1="688.5" y1="1004.05" x2="693" y2="1004.05"/><line x1="688.5" y1="968.8" x2="693" y2="968.8"/><line x1="688.5" y1="933.55" x2="693" y2="933.55"/><line x1="688.5" y1="898.3" x2="693" y2="898.3"/>
<line x1="757.6" y1="1039.3" x2="757.6" y2="1043.8"/><line x1="886.7" y1="1039.3" x2="886.7" y2="1043.8"/><line x1="1015.8" y1="1039.3" x2="1015.8" y2="1043.8"/><line x1="1144.9" y1="1039.3" x2="1144.9" y2="1043.8"/></g>
<text class="ty" x="683.5" y="1045.3">0.0</text><text class="ty" x="683.5" y="1010.05">0.5</text><text class="ty" x="683.5" y="974.8">1.0</text><text class="ty" x="683.5" y="939.55">1.5</text><text class="ty" x="683.5" y="904.3">2.0</text>
<text class="tx" x="757.6" y="1065">Birkenes</text><text class="tx" x="886.7" y="1065">Zeppelin</text><text class="tx" x="1015.8" y="1065">Andøya</text><text class="tx" x="1144.9" y="1065">Trollhaugen</text>
<text class="yl" transform="translate(632,968.8) rotate(-90)">ng<tspan font-style="italic">m</tspan><tspan font-size="12" dy="-7">−3</tspan></text>
<g id="hga-1"><line class="w" x1="757.6" y1="903.7" x2="757.6" y2="961.7"/><line class="w" x1="731.8" y1="903.7" x2="783.4" y2="903.7"/><line class="w" x1="731.8" y1="961.7" x2="783.4" y2="961.7"/><rect class="b" x="705.95" y="925.7" width="103.3" height="14.3" fill="#f5e2a6"/><line class="w" x1="705.95" y1="932" x2="809.25" y2="932"/><circle class="m" cx="751.6" cy="934" r="7.5"/></g>
<g id="hga-2"><line class="w" x1="886.7" y1="909.3" x2="886.7" y2="957.7"/><line class="w" x1="860.9" y1="909.3" x2="912.5" y2="909.3"/><line class="w" x1="860.9" y1="957.7" x2="912.5" y2="957.7"/><rect class="b" x="835.05" y="927.3" width="103.3" height="12.7" fill="#ecb75a"/><line class="w" x1="835.05" y1="935" x2="938.35" y2="935"/><circle class="m" cx="878.7" cy="935.3" r="7.5"/></g>
<g id="hga-3"><line class="w" x1="1015.8" y1="921" x2="1015.8" y2="961"/><line class="w" x1="990" y1="921" x2="1041.6" y2="921"/><line class="w" x1="990" y1="961" x2="1041.6" y2="961"/><rect class="b" x="964.15" y="935.7" width="103.3" height="10.6" fill="#dc7d32"/><line class="w" x1="964.15" y1="940.3" x2="1067.45" y2="940.3"/><circle class="m" cx="1013.8" cy="940.3" r="7.5"/></g>
<g id="hga-4"><line class="w" x1="1144.9" y1="951" x2="1144.9" y2="988.3"/><line class="w" x1="1119.1" y1="951" x2="1170.7" y2="951"/><line class="w" x1="1119.1" y1="988.3" x2="1170.7" y2="988.3"/><rect class="b" x="1093.25" y="965" width="103.3" height="10.3" fill="#a84b1a"/><line class="w" x1="1093.25" y1="968.3" x2="1196.55" y2="968.3"/><circle class="m" cx="1141.9" cy="969.3" r="7.5"/></g>
</g>
</svg>
